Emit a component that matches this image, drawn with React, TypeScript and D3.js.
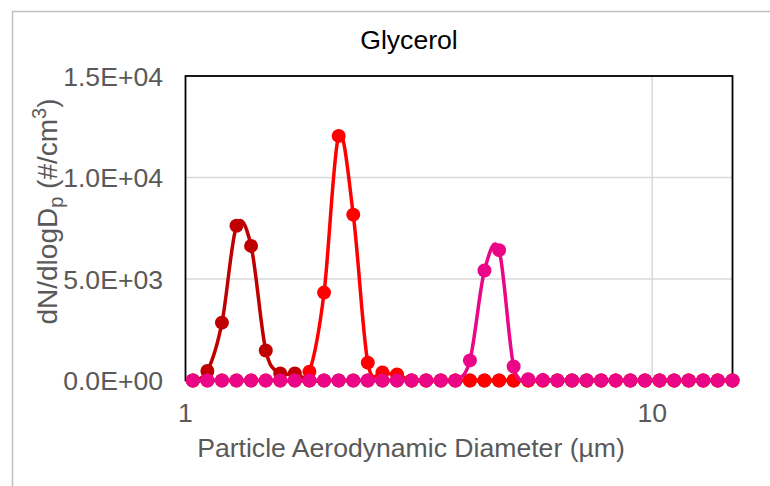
import React from "react";
import * as d3 from "d3";

const diameters = [1.037, 1.114, 1.197, 1.286, 1.382, 1.486, 1.596, 1.715, 1.843, 1.981, 2.129, 2.288, 2.458, 2.642, 2.839, 3.051, 3.278, 3.523, 3.786, 4.068, 4.371, 4.698, 5.048, 5.425, 5.829, 6.264, 6.732, 7.234, 7.774, 8.354, 8.977, 9.647, 10.37, 11.14, 11.97, 12.86, 13.82, 14.86];

const seriesDark = [0, 470, 2850, 7620, 6630, 1480, 350, 350, 0, 0, 0, 0, 0, 0, 0, 0, 0, 0, 0, 0, 0, 0, 0, 0, 0, 0, 0, 0, 0, 0, 0, 0, 0, 0, 0, 0, 0, 0];
const seriesRed = [0, 0, 0, 0, 0, 0, 0, 0, 430, 4330, 12050, 8170, 880, 400, 300, 0, 0, 0, 0, 0, 0, 0, 0, 0, 0, 0, 0, 0, 0, 0, 0, 0, 0, 0, 0, 0, 0, 0];
const seriesPink = [0, 0, 0, 0, 0, 0, 0, 0, 0, 0, 0, 0, 0, 0, 0, 0, 0, 0, 0, 990, 5420, 6420, 690, 60, 20, 0, 0, 0, 0, 0, 0, 0, 0, 0, 0, 0, 0, 0];

const yTicks = [0, 5000, 10000, 15000];
const xTicks = [1, 10];
const seriesColors = ["#C00000", "#FF0000", "#EA0686"];

const FONT = "'Liberation Sans', Arial, sans-serif";
const FS = 26.6;

export default function App() {
  const left = 185.5, right = 732.5, top = 76, bottom = 380.5;
  const x = d3.scaleLog().domain([1, 14.86]).range([left, right]);
  const y = d3.scaleLinear().domain([0, 15000]).range([bottom, top]);
  const line = d3
    .line<[number, number]>()
    .x((d) => x(d[0]))
    .y((d) => y(d[1]))
    .curve(d3.curveCardinal.tension(0));

  const allSeries = [seriesDark, seriesRed, seriesPink];
  const fmt = (v: number) => {
    const s = v.toExponential(1).toUpperCase();
    const [m, e] = s.split("E");
    const n = parseInt(e, 10);
    return `${m}E${n < 0 ? "-" : "+"}${String(Math.abs(n)).padStart(2, "0")}`;
  };

  return (
    <svg width={770} height={486} style={{ position: "absolute", left: 0, top: 0 }} fontFamily={FONT}>
      <rect x={0} y={0} width={770} height={486} fill="#fff" />
      <rect x={12.5} y={11.5} width={800} height={520} fill="#fff" stroke="#bfbfbf" strokeWidth={1.5} />
      <text x={409} y={49} textAnchor="middle" fontSize={FS} fill="#000">Glycerol</text>

      {yTicks.slice(1, 3).map((t) => (
        <line key={"gy" + t} x1={left} x2={right} y1={y(t)} y2={y(t)} stroke="#d9d9d9" strokeWidth={1.5} />
      ))}
      {xTicks.slice(1).map((t) => (
        <line key={"gx" + t} x1={x(t)} x2={x(t)} y1={top} y2={bottom} stroke="#d9d9d9" strokeWidth={1.5} />
      ))}
      <rect x={left} y={top} width={right - left} height={bottom - top} fill="none" stroke="#000" strokeWidth={1.8} />

      {yTicks.map((t) => (
        <text key={"yt" + t} x={163} y={y(t)} dy="0.36em" textAnchor="end" fontSize={FS} fill="#595959">
          {fmt(t)}
        </text>
      ))}
      {xTicks.map((t) => (
        <text key={"xt" + t} x={x(t)} y={422} textAnchor="middle" fontSize={FS} fill="#595959">
          {t}
        </text>
      ))}
      <text x={411} y={457} textAnchor="middle" fontSize={FS} fill="#595959">
        Particle Aerodynamic Diameter (µm)
      </text>
      <text transform="translate(57,211.5) rotate(-90)" textAnchor="middle" fontSize={28} fill="#595959">
        dN/dlogD<tspan fontSize={20} dy={6}>p</tspan>
        <tspan dy={-6}> (#/cm</tspan>
        <tspan fontSize={20} dy={-11}>3</tspan>
        <tspan dy={11}>)</tspan>
      </text>

      {allSeries.map((vals, si) => {
        const pts = diameters.map((d, i) => [d, vals[i]] as [number, number]);
        return (
          <g key={"s" + si}>
            <path d={line(pts) || ""} fill="none" stroke={seriesColors[si]} strokeWidth={3.5} strokeLinejoin="round" />
            {pts.map((p, i) => (
              <circle key={i} cx={x(p[0])} cy={y(p[1])} r={7} fill={seriesColors[si]} />
            ))}
          </g>
        );
      })}
    </svg>
  );
}
